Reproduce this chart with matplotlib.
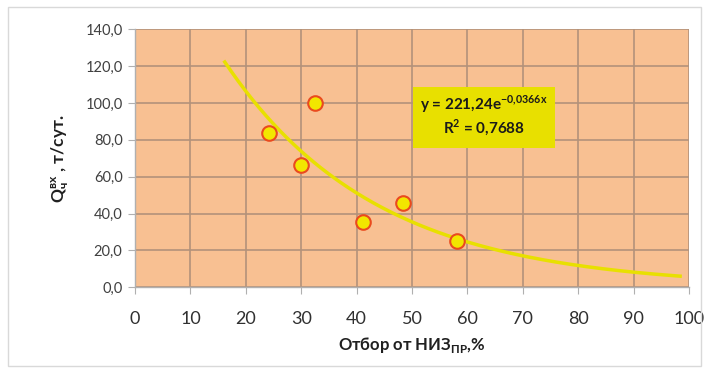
import numpy as np
import matplotlib
matplotlib.use("Agg")
import matplotlib.pyplot as plt
from matplotlib.patches import Rectangle

# данные с графика
otbor = [24.2, 29.9, 32.5, 41.2, 48.4, 58.2]
q_vx = [83.9, 66.4, 100.2, 35.3, 45.6, 25.3]
x_ticks = [0, 10, 20, 30, 40, 50, 60, 70, 80, 90, 100]
y_ticks = [0, 20, 40, 60, 80, 100, 120, 140]

# линия тренда (экспонента из подписи)
trend_a = 221.24
trend_b = -0.0366
trend_range = [16.2, 98.4]

fam = ["Lato", "DejaVu Sans"]
plt.rcParams["font.family"] = fam
plt.rcParams["mathtext.fontset"] = "custom"
plt.rcParams["mathtext.rm"] = "Lato"
plt.rcParams["mathtext.bf"] = "Lato:bold"

fig = plt.figure(figsize=(7.07, 3.73), dpi=100)
ax = fig.add_axes([0.191, 0.2298, 0.7835, 0.6916])

ax.set_facecolor("#f8c092")
ax.set_xlim(0, 100)
ax.set_ylim(0, 140)
ax.set_xticks(x_ticks)
ax.set_yticks(y_ticks)
ax.set_yticklabels([f"{v:.1f}".replace(".", ",") for v in y_ticks],
                   fontsize=10.5, color="#404040")
ax.set_xticklabels([str(v) for v in x_ticks], fontsize=13, color="#303030")
ax.grid(True, color="#b3927a", linewidth=1.2)
ax.set_axisbelow(True)
for s in ["top", "right"]:
    ax.spines[s].set_visible(False)
for s in ["left", "bottom"]:
    ax.spines[s].set_color("#b0b0b0")
    ax.spines[s].set_linewidth(1)
ax.tick_params(axis="both", length=5, color="#b0b0b0")
ax.tick_params(axis="x", pad=12)
ax.tick_params(axis="y", pad=4)

xs = np.linspace(trend_range[0], trend_range[1], 200)
ax.plot(xs, trend_a * np.exp(trend_b * xs), color="#e8e000", lw=2.5, zorder=3)
ax.scatter(otbor, q_vx, s=110, facecolor="#f2e600", edgecolor="#ea4a1e",
           linewidth=1.5, zorder=4)

# подпись уравнения
ax.add_patch(Rectangle((50.2, 75.6), 25.6, 33.1, facecolor="#e8e000",
                       edgecolor="none", zorder=5))
ax.text(63, 99.4, "y = 221,24e$^{\\mathbf{-0{,}0366x}}$", fontsize=11,
        fontweight="bold", ha="center", va="center", color="#1a1a1a", zorder=6)
ax.text(63, 86.2, "R$^{\\mathbf{2}}$ = 0,7688", fontsize=11,
        fontweight="bold", ha="center", va="center", color="#1a1a1a", zorder=6)

ax.set_ylabel("$\\mathbf{Q_{ч}^{вх}}$ , т/сут.", fontsize=12.5,
              fontweight="bold", color="#202020", labelpad=10)
ax.set_xlabel("Отбор от НИЗ$_{\\mathbf{ПР}}$,%", fontsize=12,
              fontweight="bold", color="#202020", labelpad=6)

fig.patches.append(Rectangle((8 / 707, 7 / 373), 693 / 707, 359 / 373,
                             transform=fig.transFigure, fill=False,
                             edgecolor="#d9d9d9", linewidth=1))

fig.savefig("out.png", dpi=100)
